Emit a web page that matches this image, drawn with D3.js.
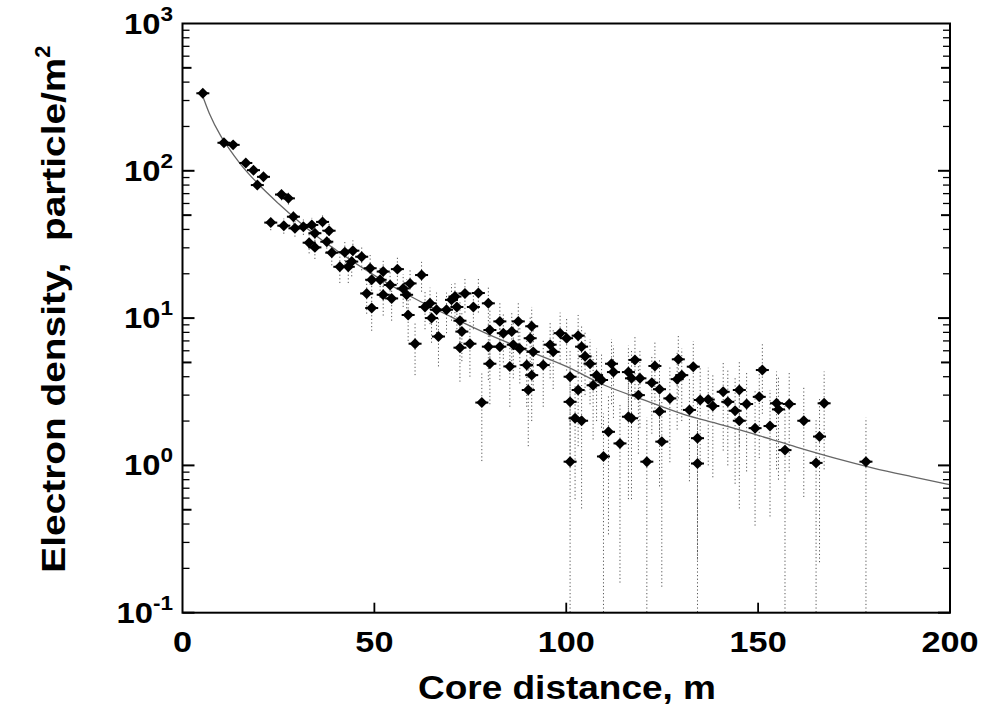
<!DOCTYPE html>
<html><head><meta charset="utf-8">
<script src="https://cdn.jsdelivr.net/npm/d3@7"></script>
<style>
html,body{margin:0;padding:0;background:#fff;}
svg{display:block;font-family:"Liberation Sans",Arial,Helvetica,sans-serif;}
text{white-space:pre;}
</style></head>
<body>
<svg id="chart" width="983" height="708"></svg>
<script>
const distance = [5.3,10.8,13.2,16.5,18.5,19.5,21.1,23.0,25.8,26.4,27.6,28.9,29.3,31.5,33.0,33.7,34.5,34.5,36.5,37.6,38.2,38.9,41.0,42.3,43.2,44.1,44.4,46.7,48.9,49.3,48.0,49.3,51.5,52.3,52.3,54.1,54.5,56.0,57.5,58.4,59.3,58.8,60.6,62.3,63.2,64.5,64.9,66.2,66.7,68.8,70.1,71.0,71.5,72.3,72.8,72.3,73.6,74.9,75.8,77.1,78.0,79.7,80.1,79.7,80.1,82.7,83.6,82.7,85.8,87.5,86.2,85.3,87.9,89.7,91.0,90.6,91.4,91.0,90.1,94.0,95.8,96.6,98.4,100.1,101.0,101.0,101.0,103.1,104.0,103.1,102.3,104.0,104.9,106.2,107.9,109.2,107.0,111.0,111.8,112.3,109.7,114.0,116.2,117.9,117.0,119.2,118.8,116.2,117.0,121.0,122.3,123.1,124.3,124.3,124.9,127.0,129.2,130.1,128.9,132.1,133.1,134.2,134.2,134.9,137.0,138.2,140.9,142.1,144.0,145.1,145.1,147.0,149.2,150.3,151.1,153.1,154.8,155.3,157.0,158.1,161.9,165.1,166.0,167.2,178.1];
const density = [336,155,150,113,101,80,91,44.5,69,42.4,65,48.8,40.7,41.7,32.5,42.9,37.7,30.2,45,33,39.2,27.8,22.3,28,22.3,24.2,28.7,26.1,21.8,18.2,14.7,11.7,18.2,20.7,14.4,16.8,13.6,21.5,15.9,14.4,17.2,10.5,6.7,19.6,11.9,12.6,10.0,11.4,7.5,11.4,13.3,14.0,11.9,9.6,8.1,6.3,14.7,6.7,11.9,14.8,2.67,12.6,8.3,6.4,4.9,9.5,7.9,6.4,8.1,9.5,6.6,4.7,6.2,4.8,8.8,7.3,5.9,4.1,3.25,4.8,6.6,5.9,7.9,7.3,4.0,2.7,1.06,7.6,6.4,3.25,2.09,2.01,5.5,4.9,4.1,3.8,3.5,1.69,4.9,4.3,1.15,1.41,4.3,5.2,3.9,3.9,3.0,2.14,2.09,1.06,3.64,4.73,3.29,2.32,1.45,2.85,5.25,4.1,3.85,2.38,4.68,1.53,1.03,2.78,2.8,2.53,3.16,2.7,2.35,3.25,2.01,2.61,1.79,2.92,4.44,1.85,2.64,2.4,1.27,2.61,2.01,1.04,1.57,2.64,1.06];
const sigma = [10,8,8,7,7,6,6,5,6,5,6,5,5,5,5,5,5,5,6,5,5,5,5,5,5,5,5,5,5,4.5,4,3.5,4.5,4.5,4,4,4,4.5,4,4,4,3.5,2.6,4.5,3.5,3.5,3.2,3.5,2.8,3.5,3.7,3.8,3.5,3.2,3,2.6,3.8,2.7,3.5,3.9,1.6,3.6,3,2.6,2.3,3.2,2.9,2.6,3,3.2,2.7,2.2,2.6,2.3,3.1,2.8,2.6,2.1,1.9,2.3,2.7,2.6,3,2.9,2.1,1.7,1.05,2.9,2.7,1.9,1.5,1.5,2.5,2.3,2.1,2,2,1.35,2.3,2.2,1.1,1.25,2.2,2.4,2.1,2.1,1.8,1.55,1.5,1.05,2,2.3,1.9,1.6,1.3,1.8,2.4,2.1,2.1,1.6,2.3,1.3,1.05,1.8,1.8,1.7,1.9,1.7,1.6,1.9,1.5,1.7,1.4,1.8,2.2,1.4,1.7,1.6,1.25,1.7,1.4,1.05,1.35,1.7,1.05];
// Fitted lateral distribution curve
const fitDistance = [5,7,10,12,15,20,25,30,35,40,50,60,70,80,90,100,110,120,130,140,150,160,170,180,190,200];
const fitDensity  = [336,245,172,143,112,80,60,46,36,29,19.5,13.8,10.2,7.7,6.0,4.7,3.5,2.8,2.25,1.9,1.6,1.33,1.12,0.96,0.84,0.74];
const xTicks = [0,50,100,150,200];
const yExponents = [-1,0,1,2,3];
const xTitle = "Core distance, m";
const yTitle = "Electron density,  particle/m";

const svg = d3.select("#chart");
const L = 182.5, R = 950, T = 23.5, B = 612.7;
const x = d3.scaleLinear().domain([0,200]).range([L,R]);
const y = d3.scaleLog().domain([0.1,1000]).range([B,T]);

svg.append("defs").append("clipPath").attr("id","clip")
  .append("rect").attr("x",L).attr("y",T).attr("width",R-L).attr("height",B-T);

const plot = svg.append("g").attr("clip-path","url(#clip)");

// error bars
const pts = distance.map((d,i)=>({d, v:density[i], s:sigma[i]}));
plot.append("g").selectAll("line").data(pts).join("line")
  .attr("x1",p=>x(p.d)).attr("x2",p=>x(p.d))
  .attr("y1",p=>y(Math.max(p.v-p.s,0.09)))
  .attr("y2",p=>y(p.v+p.s))
  .attr("stroke","#555").attr("stroke-width",1).attr("stroke-dasharray","1.2,2.4");

// fit line
const fit = fitDistance.map((d,i)=>[d,fitDensity[i]]);
plot.append("path").datum(fit)
  .attr("d", d3.line().x(p=>x(p[0])).y(p=>y(p[1])).curve(d3.curveMonotoneX))
  .attr("fill","none").attr("stroke","#666").attr("stroke-width",1.3);

// markers
const sym = d3.symbol().type(d3.symbolSquare).size(60);
plot.append("g").selectAll("path").data(pts).join("path")
  .attr("d", sym)
  .attr("transform", p=>`translate(${x(p.d)},${y(p.v)}) rotate(45)`)
  .attr("fill","#000");
plot.append("g").selectAll("rect").data(pts).join("rect")
  .attr("x",p=>x(p.d)-6.5).attr("y",p=>y(p.v)-1)
  .attr("width",13).attr("height",2).attr("fill","#000");

// frame
svg.append("rect").attr("x",L).attr("y",T).attr("width",R-L).attr("height",B-T)
  .attr("fill","none").attr("stroke","#000").attr("stroke-width",2);

const axG = svg.append("g");
// x ticks (bottom, inward)
xTicks.forEach(t=>{
  if (t>0 && t<200) axG.append("line").attr("x1",x(t)).attr("x2",x(t)).attr("y1",B).attr("y2",B-10)
    .attr("stroke","#000").attr("stroke-width",1.8);
  axG.append("text").attr("transform",`translate(${x(t)},652) scale(1.18,1)`)
    .attr("text-anchor","middle")
    .attr("font-size",29).attr("font-weight","bold").text(t);
});

// y ticks (left & right, inward)
for (let e=-1;e<3;e++){
  for (let m=1;m<=9;m++){
    const v = m*Math.pow(10,e);
    const len = m===1 ? 12 : (m===5 ? 9 : 7);
    const sw = m===1 ? 2 : (m===5 ? 2 : 1.3);
    axG.append("line").attr("x1",L).attr("x2",L+len).attr("y1",y(v)).attr("y2",y(v))
      .attr("stroke","#000").attr("stroke-width",sw);
    axG.append("line").attr("x1",R).attr("x2",R-len).attr("y1",y(v)).attr("y2",y(v))
      .attr("stroke","#000").attr("stroke-width",sw);
  }
}
yExponents.forEach(e=>{
  const t = axG.append("text").attr("transform",`translate(173,${y(Math.pow(10,e))+10}) scale(1.13,1)`)
    .attr("text-anchor","end").attr("font-size",29).attr("font-weight","bold");
  t.append("tspan").text("10");
  t.append("tspan").attr("dy",-13).attr("font-size",20).text(e);
});

// axis titles
svg.append("text").attr("x",567).attr("y",699).attr("text-anchor","middle")
  .attr("font-size",33).attr("font-weight","bold")
  .attr("textLength",298).attr("lengthAdjust","spacingAndGlyphs").text(xTitle);
const yt = svg.append("text").attr("transform","translate(65,309) rotate(-90)")
  .attr("text-anchor","middle").attr("font-size",33).attr("font-weight","bold");
yt.append("tspan").attr("textLength",515).attr("lengthAdjust","spacingAndGlyphs").text(yTitle);
yt.append("tspan").attr("dy",-15).attr("font-size",22).text("2");
</script>
</body></html>
